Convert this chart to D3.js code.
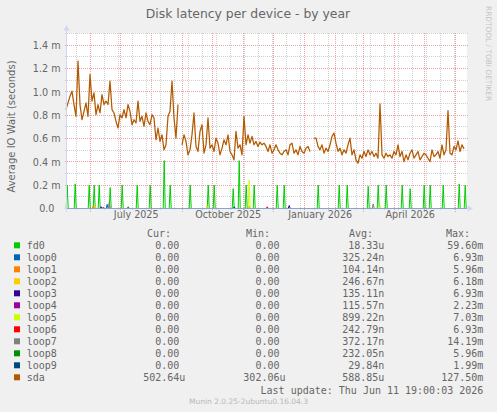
<!DOCTYPE html>
<html><head><meta charset="utf-8">
<script src="https://cdn.jsdelivr.net/npm/d3@7"></script>
<style>
html,body{margin:0;padding:0;background:#F0F0F0;}
svg{display:block;}
</style></head>
<body>
<script>
// ---------------- DATA ----------------
const title = "Disk latency per device - by year";
const yLabel = "Average IO Wait (seconds)";
const endTime = "2026-06-11T19:00:03Z";
const spanDays = 400;
const yTicks = [0, 0.2, 0.4, 0.6, 0.8, 1.0, 1.2, 1.4];          // ms
const xLabelMonths = ["2025-07-16", "2025-10-16", "2026-01-16", "2026-04-16"];

const seriesNames  = ["fd0","loop0","loop1","loop2","loop3","loop4","loop5","loop6","loop7","loop8","loop9","sda"];
const seriesColors = ["#00CC00","#0066B3","#FF8000","#FFCC00","#330099","#990099","#CCFF00","#FF0000","#808080","#008F00","#00487D","#B35A00"];

// legend statistics (seconds)
const statCur = [0,0,0,0,0,0,0,0,0,0,0,502.64e-6];
const statMin = [0,0,0,0,0,0,0,0,0,0,0,302.06e-6];
const statAvg = [18.33e-6,325.24e-9,104.14e-9,246.67e-9,135.11e-9,115.57e-9,899.22e-9,242.79e-9,372.17e-9,232.05e-9,29.84e-9,588.85e-6];
const statMax = [59.60e-3,6.93e-3,5.96e-3,6.18e-3,6.93e-3,2.23e-3,7.03e-3,6.93e-3,14.19e-3,5.96e-3,1.99e-3,127.50e-3];

// sda: one value every 2 days (ms), starting at sdaFirst
const sdaFirst = "2025-05-07T07:00:00Z";
const sdaStepDays = 2;
const sdaMs = [
0.848,0.905,0.963,1.006,0.891,0.790,1.264,0.891,0.761,0.833,
0.905,0.790,1.149,0.920,0.991,0.805,0.891,0.819,0.977,0.891,
0.920,0.891,1.092,0.848,0.819,0.747,0.690,0.805,0.776,0.848,
0.776,0.891,0.833,0.718,0.761,0.733,0.920,0.747,0.790,0.704,
0.819,0.747,0.718,0.805,0.776,0.589,0.690,0.575,0.632,0.503,
0.546,0.790,0.833,1.092,0.776,0.603,0.891,null,0.546,0.632,
0.575,0.460,0.503,0.632,0.819,0.532,0.489,0.661,0.718,0.474,
0.546,0.776,0.517,0.546,0.489,0.603,0.560,0.460,0.517,0.589,
0.546,0.632,0.489,0.460,0.417,0.661,0.517,0.546,0.460,0.790,
0.546,0.632,0.560,0.618,0.546,0.575,0.532,0.569,0.546,0.560,
0.532,0.489,0.546,0.474,0.503,0.546,0.503,0.474,0.460,0.489,
0.503,0.460,0.546,0.560,0.474,0.503,0.460,0.532,0.489,0.474,
0.517,0.532,0.489,null,0.603,0.603,0.532,0.503,0.546,0.474,
0.517,0.489,0.546,0.618,0.647,0.560,0.489,0.517,0.460,0.503,
0.474,0.546,0.603,0.460,0.503,0.417,0.388,0.460,0.431,0.489,
0.445,0.503,0.460,0.489,0.445,0.474,0.431,0.897,0.460,0.431,
0.474,0.445,0.460,0.431,0.489,0.460,0.546,0.445,0.489,0.402,
0.460,0.417,0.474,0.503,0.431,0.460,0.489,0.417,0.445,0.474,
0.460,0.431,0.402,0.503,0.445,0.460,0.489,0.431,0.546,0.460,
0.503,0.839,0.474,0.460,0.532,0.503,0.580,0.489,0.546,0.511
];

// short spikes of the other devices (date of peak, value in ms); zero elsewhere
const fd0Dates = ["2025-05-08","2025-05-16","2025-05-30","2025-06-04","2025-06-09","2025-06-20","2025-07-02","2025-07-17","2025-07-30","2025-08-13","2025-08-19","2025-09-08","2025-09-26","2025-10-02","2025-10-21","2025-10-27","2025-11-03","2025-11-11","2025-12-04","2025-12-11","2026-01-14","2026-02-04","2026-02-12","2026-03-05","2026-03-15","2026-03-23","2026-04-08","2026-04-16","2026-04-30","2026-05-06","2026-05-19","2026-06-04","2026-06-10"];
const fd0Values = [0.20,0.21,0.20,0.20,0.20,0.18,0.20,0.20,0.20,0.41,0.20,0.20,0.20,0.20,0.17,0.41,0.20,0.20,0.20,0.20,0.20,0.20,0.20,0.19,0.20,0.20,0.20,0.17,0.20,0.20,0.20,0.21,0.20];
const loop0Dates = ["2025-06-17"], loop0Values = [0.035];
const loop1Dates = ["2025-06-03","2025-11-06"], loop1Values = [0.02,0.02];
const loop2Dates = ["2025-06-05","2025-09-25"], loop2Values = [0.02,0.02];
const loop3Dates = ["2025-06-11","2025-12-16"], loop3Values = [0.015,0.025];
const loop4Dates = ["2025-06-13"], loop4Values = [0.01];
const loop5Dates = ["2025-11-06","2026-03-17"], loop5Values = [0.245,0.025];
const loop6Dates = ["2025-11-24"], loop6Values = [0.015];
const loop7Dates = ["2025-06-19","2026-03-10"], loop7Values = [0.05,0.04];
const loop8Dates = ["2025-07-08"], loop8Values = [0.015];
const loop9Dates = ["2025-10-22"], loop9Values = [0.015];

// ---------------- DRAW ----------------
const W = 497, H = 412;
const PX0 = 66.5, PX1 = 466.5, PY0 = 208.5, PYT = 33.5;
const FONT = "DejaVu Sans, Verdana, sans-serif";
const MONO = "DejaVu Sans Mono, monospace";
const TXT = "#666666";

const end = new Date(endTime);
const start = d3.utcDay.offset(end, -spanDays);
const x = d3.scaleUtc().domain([start, end]).range([PX0, PX1]);
const y = d3.scaleLinear().domain([0, 1.5]).range([PY0, PYT]);

const svg = d3.select("body").append("svg").attr("width", W).attr("height", H);
svg.append("rect").attr("width", W).attr("height", H).attr("fill", "#F0F0F0");
svg.append("rect").attr("x", PX0 + 0.5).attr("y", PYT - 0.5).attr("width", PX1 - PX0).attr("height", PY0 - PYT + 0.5).attr("fill", "#FFFFFF");

const grid = svg.append("g").attr("shape-rendering", "crispEdges");
const snap = v => Math.round(v - 0.5) + 0.5;
// horizontal minor / major grid
d3.range(0, 1.51, 0.1).forEach(v => {
  const major = Math.round(v * 10) % 2 === 0;
  if (v === 0) return;
  grid.append("line").attr("x1", PX0 - 2).attr("x2", PX1 + 1)
    .attr("y1", snap(y(v))).attr("y2", snap(y(v)))
    .attr("stroke", major ? "#F0A0A0" : "#D0D0D0").attr("stroke-dasharray", "1,1");
});
// vertical minor (every 2 weeks) and major (months)
const minorDates = d3.utcDay.range(new Date("2025-05-18T00:00:00Z"), end, 14);
minorDates.forEach(d => {
  grid.append("line").attr("x1", snap(x(d))).attr("x2", snap(x(d)))
    .attr("y1", PYT - 1).attr("y2", PY0 + 2)
    .attr("stroke", "#D0D0D0").attr("stroke-dasharray", "1,1");
});
d3.utcMonth.range(start, end).forEach(d => {
  grid.append("line").attr("x1", snap(x(d))).attr("x2", snap(x(d)))
    .attr("y1", PYT - 1).attr("y2", PY0 + 3)
    .attr("stroke", "#F0A0A0").attr("stroke-dasharray", "1,1");
});

// y tick labels
const yAxis = d3.axisLeft(y).tickValues(yTicks).tickSize(0).tickPadding(0)
  .tickFormat(v => v === 0 ? "0.0\u00a0\u00a0" : d3.format(".1f")(v) + " m");
const ya = svg.append("g").attr("transform", `translate(${PX0 - 6},0)`).call(yAxis);
ya.select(".domain").remove();
ya.selectAll("text").attr("font-family", FONT).attr("font-size", 9.6).attr("fill", TXT).attr("dy", "0.35em");

// x labels
const xAxis = d3.axisBottom(x).tickValues(xLabelMonths.map(s => new Date(s + "T00:00:00Z")))
  .tickSize(0).tickPadding(0).tickFormat(d3.utcFormat("%B %Y"));
const xa = svg.append("g").attr("transform", `translate(0,${PY0 + 3})`).call(xAxis);
xa.select(".domain").remove();
xa.selectAll("text").attr("font-family", FONT).attr("font-size", 9.6).attr("fill", TXT).attr("dy", "0.71em");

// series
const line = d3.line().defined(d => d.v !== null).x(d => x(d.t)).y(d => y(d.v));
function spikeSeries(dates, values) {
  const pts = [{t: start, v: 0}];
  dates.forEach((s, i) => {
    const t = new Date(s + "T12:00:00Z");
    pts.push({t: d3.utcDay.offset(t, -1), v: 0}, {t: t, v: values[i]}, {t: d3.utcDay.offset(t, 1), v: 0});
  });
  pts.push({t: end, v: 0});
  return pts;
}
const spikeData = [
  [fd0Dates, fd0Values],[loop0Dates, loop0Values],[loop1Dates, loop1Values],[loop2Dates, loop2Values],
  [loop3Dates, loop3Values],[loop4Dates, loop4Values],[loop5Dates, loop5Values],[loop6Dates, loop6Values],
  [loop7Dates, loop7Values],[loop8Dates, loop8Values],[loop9Dates, loop9Values]
];
const plot = svg.append("g");
spikeData.forEach((sd, i) => {
  plot.append("path").datum(spikeSeries(sd[0], sd[1])).attr("d", line)
    .attr("fill", "none").attr("stroke", seriesColors[i]).attr("stroke-width", 1);
});
const sdaFirstDate = new Date(sdaFirst);
const sdaPts = sdaMs.map((v, i) => ({t: d3.utcDay.offset(sdaFirstDate, i * sdaStepDays), v: v}));
plot.append("path").datum(sdaPts).attr("d", line)
  .attr("fill", "none").attr("stroke", seriesColors[11]).attr("stroke-width", 1.25).attr("stroke-linejoin", "round");

// axes lines + arrows
const axc = "#CFD6F8";
svg.append("line").attr("x1", PX0 - 3).attr("x2", PX1 + 2).attr("y1", PY0).attr("y2", PY0)
  .attr("stroke", axc).attr("stroke-opacity", 0.65).attr("shape-rendering", "crispEdges");
svg.append("line").attr("x1", PX0).attr("x2", PX0).attr("y1", PY0 + 3).attr("y2", PYT - 4)
  .attr("stroke", axc).attr("shape-rendering", "crispEdges");
svg.append("path").attr("d", `M${PX1 + 1},${PY0 - 3}L${PX1 + 6.5},${PY0}L${PX1 + 1},${PY0 + 3}Z`).attr("fill", axc);
svg.append("path").attr("d", `M${PX0 - 3},${PYT - 3}L${PX0},${PYT - 8.5}L${PX0 + 3},${PYT - 3}Z`).attr("fill", axc);

// titles
svg.append("text").attr("x", 248).attr("y", 17.5).attr("text-anchor", "middle")
  .attr("font-family", FONT).attr("font-size", 12.4).attr("fill", TXT).text(title);
svg.append("text").attr("transform", "translate(14.5,126.5) rotate(-90)").attr("text-anchor", "middle")
  .attr("font-family", FONT).attr("font-size", 10).attr("fill", TXT).text(yLabel);
svg.append("text").attr("transform", "translate(485.5,6) rotate(90)").attr("text-anchor", "start")
  .attr("font-family", FONT).attr("font-size", 7.4).attr("fill", "#C4C4C4").text("RRDTOOL / TOBI OETIKER");

// legend
function fmt(v) {
  if (v === 0) return "0.00\u00a0";
  const pre = [[1e-9, "n"], [1e-6, "u"], [1e-3, "m"], [1, "\u00a0"]];
  let p = pre[0];
  pre.forEach(q => { if (v >= q[0]) p = q; });
  return (v / p[0]).toFixed(2) + p[1];
}
const colRight = [185.3, 285.5, 384.3, 483.3];
const headerRight = [171, 270, 373, 470];
const headers = ["Cur:", "Min:", "Avg:", "Max:"];
const lg = svg.append("g").attr("font-family", MONO).attr("font-size", 10).attr("fill", TXT);
headers.forEach((h, j) => lg.append("text").attr("x", headerRight[j]).attr("y", 237.3).attr("text-anchor", "end").text(h));
const stats = [statCur, statMin, statAvg, statMax];
seriesNames.forEach((n, i) => {
  const by = 249.3 + 12 * i;
  lg.append("rect").attr("x", 14).attr("y", by - 7).attr("width", 6).attr("height", 6).attr("fill", seriesColors[i]);
  lg.append("text").attr("x", 26.7).attr("y", by).text(n);
  stats.forEach((s, j) => lg.append("text").attr("x", colRight[j]).attr("y", by).attr("text-anchor", "end").text(fmt(s[i])));
});
lg.append("text").attr("x", 483.3).attr("y", 393.5).attr("text-anchor", "end").text("Last update: Thu Jun 11 19:00:03 2026");
svg.append("text").attr("x", 248.5).attr("y", 404).attr("text-anchor", "middle")
  .attr("font-family", FONT).attr("font-size", 7.5).attr("fill", "#B8B8B8").text("Munin 2.0.25-2ubuntu0.16.04.3");
</script>
</body></html>
